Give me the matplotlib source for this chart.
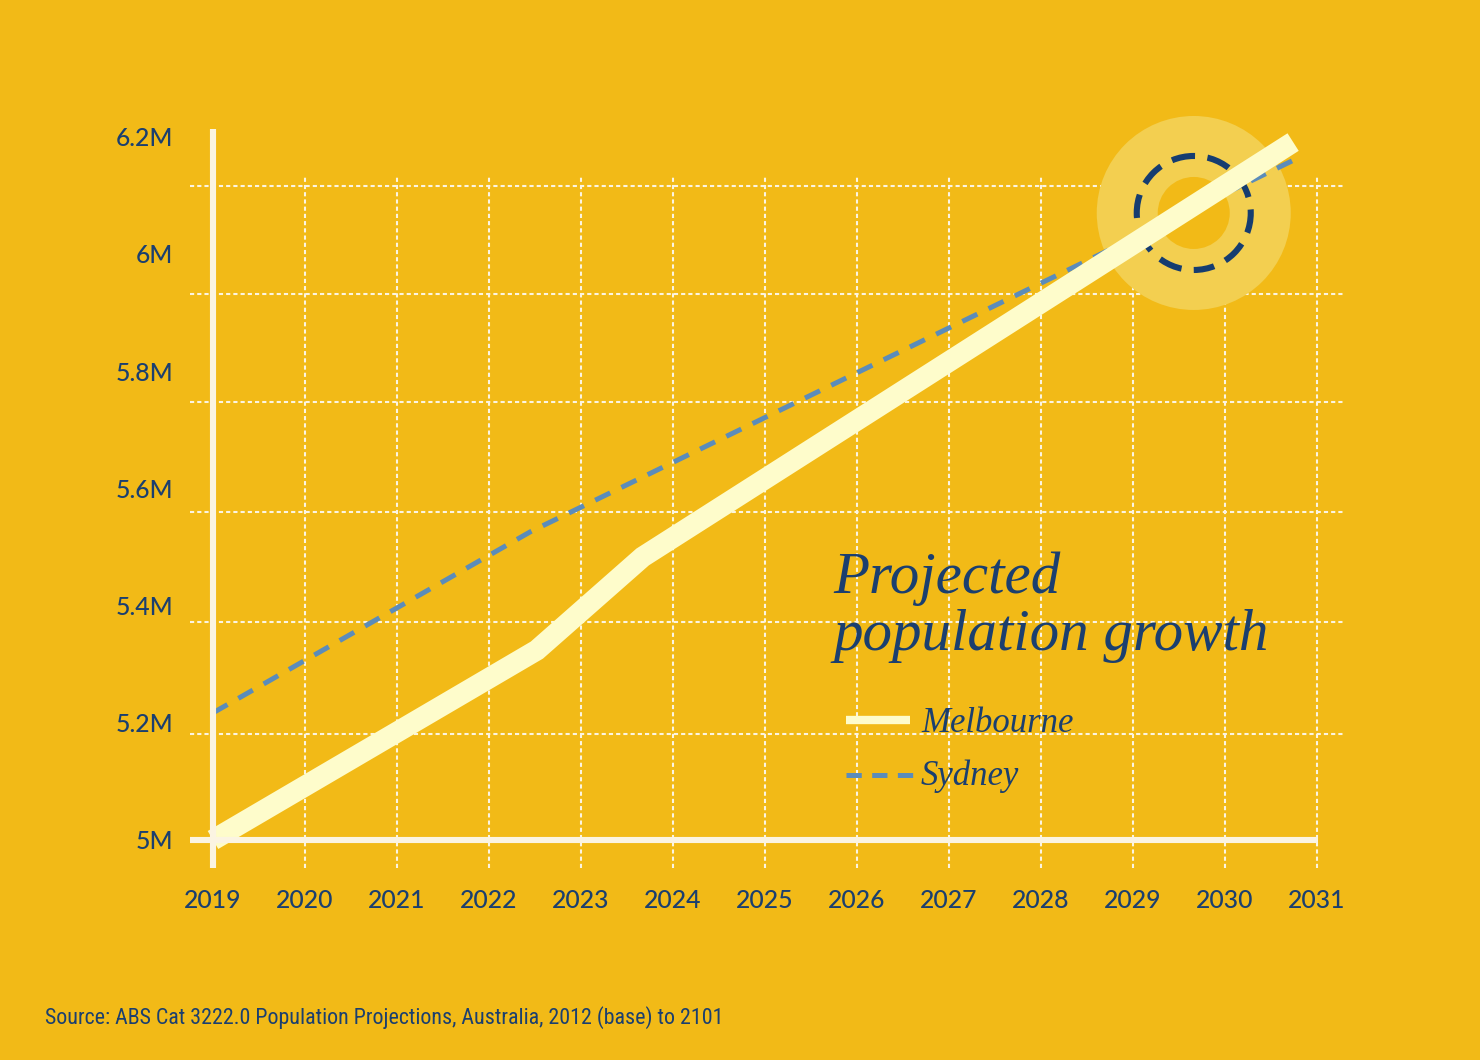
import matplotlib
matplotlib.use("Agg")
import matplotlib.pyplot as plt
import matplotlib.transforms as mtransforms
from matplotlib.patches import Circle
from matplotlib.lines import Line2D

plt.rcParams['lines.scale_dashes'] = False

# data
mel_years = [2019, 2022.52, 2023.67, 2030.74]
mel_pop = [5.0, 5.324, 5.483, 6.191]          # millions
syd_years = [2019, 2022.45, 2030.73]
syd_pop = [5.217, 5.526, 6.159]

year_ticks = list(range(2019, 2032))
pop_ticks = [5.0, 5.2, 5.4, 5.6, 5.8, 6.0, 6.2]
pop_labels = ['5M', '5.2M', '5.4M', '5.6M', '5.8M', '6M', '6.2M']
grid_pop = [5.181, 5.372, 5.560, 5.747, 5.932, 6.116]
crossover = (2029.66, 6.070)

bg = '#F2BA17'
navy = '#1B3F6F'
cream = '#FBF4E2'
mel_col = '#FEFCCB'
syd_col = '#5B8CBA'
tick_font = ['Lato', 'DejaVu Sans']
serif = ['Liberation Serif', 'DejaVu Serif']

fig = plt.figure(figsize=(14.8, 10.6), dpi=100, facecolor=bg)
W, H = 1480, 1060
ax = fig.add_axes([190 / W, 1 - 868 / H, (1345 - 190) / W, (868 - 129) / H])
ax.set_facecolor('none')
ax.set_xlim(2018.75, 2031.304)
ax.set_ylim(4.9522, 6.2133)
for s in ax.spines.values():
    s.set_visible(False)

# grid
gstyle = dict(color=cream, lw=1.5, linestyle=(0, (3, 2.2)), zorder=1)
ax.hlines(grid_pop, 2018.75, 2031.30, **gstyle)
ax.vlines(year_ticks[1:], 4.9522, 6.131, **gstyle)

# axis lines
ax.plot([2019, 2019], [4.9522, 6.2133], color=cream, lw=4.4, solid_capstyle='butt', zorder=6, clip_on=False)
ax.plot([2018.75, 2031.01], [5.0, 5.0], color=cream, lw=4.4, solid_capstyle='butt', zorder=6, clip_on=False)

# crossover highlight
trans = fig.dpi_scale_trans + mtransforms.ScaledTranslation(crossover[0], crossover[1], ax.transData)
ax.add_patch(Circle((0, 0), 0.97, transform=trans, facecolor='#F3CF50', edgecolor='none',
                    zorder=2, clip_on=False))
ax.add_patch(Circle((0, 0), 0.36, transform=trans, facecolor=bg, edgecolor='none',
                    zorder=2.1, clip_on=False))
ax.add_patch(Circle((0, 0), 0.57, transform=trans, facecolor='none', edgecolor='#163D70',
                    lw=4.4, linestyle=(2, (17, 9)), zorder=2.2, clip_on=False))

# series
ax.plot(syd_years, syd_pop, color=syd_col, lw=3.6, linestyle=(0, (12, 9)),
        dash_capstyle='butt', zorder=3, clip_on=False)
ax.plot(mel_years, mel_pop, color=mel_col, lw=15, solid_capstyle='butt',
        solid_joinstyle='miter', zorder=4, clip_on=False)

# ticks
ax.set_xticks(year_ticks)
ax.set_xticklabels([str(y) for y in year_ticks], family=tick_font, fontsize=17.8,
                   fontweight=500, color=navy)
ax.set_yticks(pop_ticks)
ax.set_yticklabels(pop_labels, family=tick_font, fontsize=17.8, fontweight=500, color=navy)
ax.tick_params(length=0)
ax.tick_params(axis='x', pad=15)
ax.tick_params(axis='y', pad=12)

# title and legend
fig.text(833 / W, 1 - 593 / H, 'Projected', family=serif, style='italic', fontsize=42.5,
         color=navy, ha='left', va='baseline')
fig.text(833 / W, 1 - 650 / H, 'population growth', family=serif, style='italic', fontsize=42.5,
         color=navy, ha='left', va='baseline')
fig.add_artist(Line2D([846 / W, 910 / W], [1 - 720 / H] * 2, color=mel_col, lw=6,
                      solid_capstyle='butt', transform=fig.transFigure))
fig.add_artist(Line2D([846 / W, 917 / W], [1 - 775 / H] * 2, color=syd_col, lw=3.6,
                      linestyle=(0, (11, 7.5)), dash_capstyle='butt', transform=fig.transFigure))
fig.text(921 / W, 1 - 732 / H, 'Melbourne', family=serif, style='italic', fontsize=25,
         color=navy, ha='left', va='baseline')
fig.text(921 / W, 1 - 785 / H, 'Sydney', family=serif, style='italic', fontsize=25,
         color=navy, ha='left', va='baseline')

fig.text(45 / W, 1 - 1018 / H,
         'Source: ABS Cat 3222.0 Population Projections, Australia, 2012 (base) to 2101',
         family=['Roboto Condensed', 'Liberation Sans Narrow', 'DejaVu Sans'], fontsize=15.8,
         color=navy, ha='left', va='center')

fig.savefig('out.png', dpi=100, facecolor=bg)
